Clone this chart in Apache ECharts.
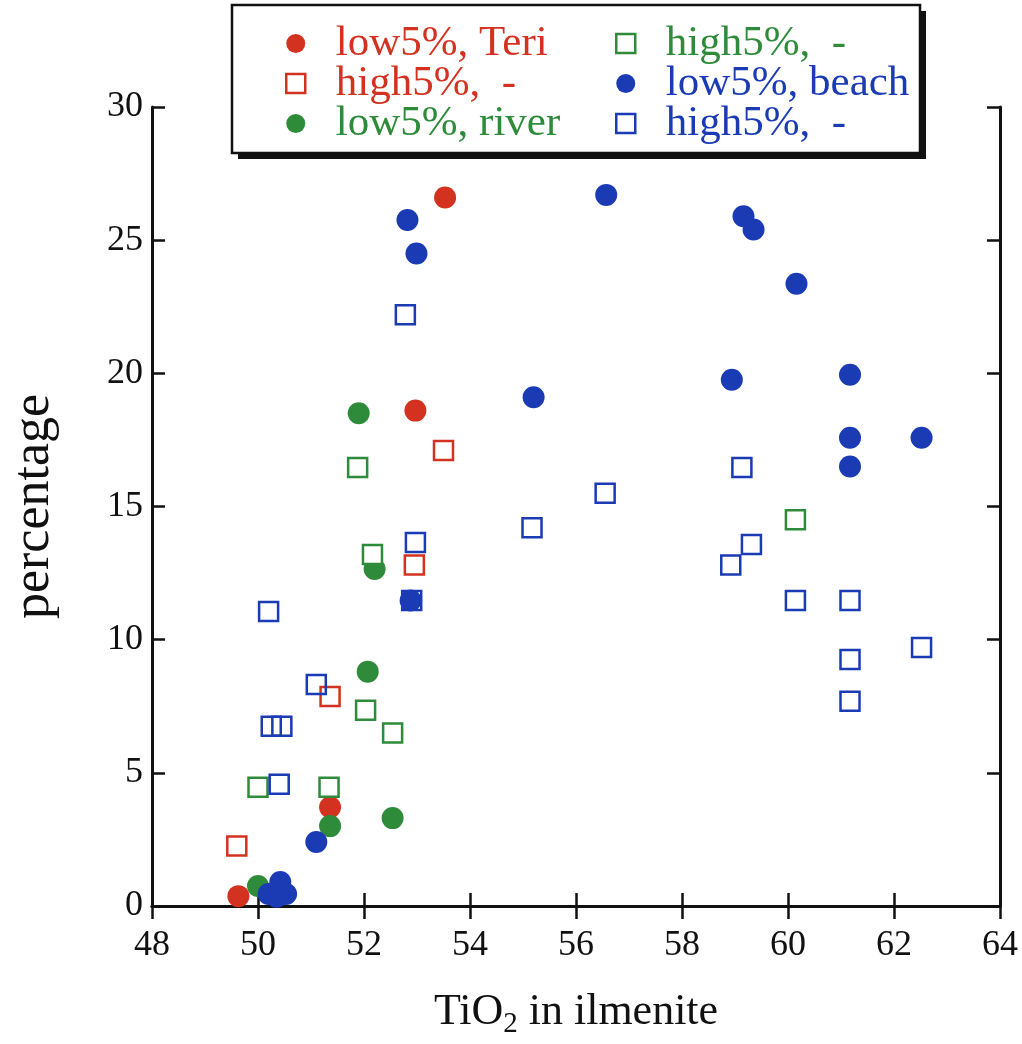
<!DOCTYPE html>
<html>
<head>
<meta charset="utf-8">
<script src="https://cdn.jsdelivr.net/npm/echarts@6/dist/echarts.min.js"></script>
<style>
  html, body { margin: 0; padding: 0; background: #fff; }
  #chart { width: 1022px; height: 1044px; }
</style>
</head>
<body>
<div id="chart"></div>
<script>
// TiO2 content of ilmenite vs. percentage, low/high 5% fractions by source
var xTicks = [48, 64, 2];   // min, max, step
var yTicks = [0, 30, 5];

var teriLow   = [[49.63, 0.37], [51.36, 3.71], [52.97, 18.6], [53.53, 26.6]];
var teriHigh  = [[49.6, 2.25], [51.36, 7.87], [52.95, 12.8], [53.5, 17.1]];
var riverLow  = [[50.0, 0.75], [51.36, 3.0], [52.54, 3.3], [52.07, 8.8], [52.2, 12.65], [51.9, 18.5]];
var riverHigh = [[50.0, 4.46], [51.34, 4.46], [52.54, 6.5], [52.03, 7.35], [52.16, 13.2], [51.88, 16.46], [60.14, 14.5]];
var beachLow  = [[50.2, 0.45], [50.35, 0.35], [50.42, 0.9], [50.53, 0.45], [51.1, 2.4], [52.88, 11.47],
                 [52.82, 25.76], [52.99, 24.5], [55.2, 19.1], [56.57, 26.7], [58.94, 19.76], [59.16, 25.9],
                 [59.35, 25.4], [60.16, 23.36], [61.17, 19.95], [61.17, 17.58], [61.17, 16.5], [62.52, 17.58]];
var beachHigh = [[50.4, 4.57], [50.25, 6.75], [50.45, 6.75], [51.1, 8.32], [50.2, 11.06], [52.9, 11.47],
                 [52.97, 13.65], [52.78, 22.2], [55.17, 14.2], [56.55, 15.5], [58.92, 12.8], [59.31, 13.57],
                 [59.13, 16.46], [60.14, 11.47], [61.17, 11.47], [61.17, 9.26], [61.17, 7.69], [62.52, 9.71]];

var legendText = {
  'Teri low': 'low5%, Teri', 'Teri high': 'high5%,  -', 'river low': 'low5%, river',
  'river high': 'high5%,  -', 'beach low': 'low5%, beach', 'beach high': 'high5%,  -'
};

var RED = '#d2321f', GREEN = '#2e8b3a', BLUE = '#1a3bb3';
var FONT = 'Liberation Serif';
var SQUARE = 'path://M0,0H10V10H0Z';

function dots(name, data, color) {
  return { name: name, type: 'scatter', data: data, symbol: 'circle', symbolSize: 22,
           itemStyle: { color: color, opacity: 1 }, z: 3 };
}
function boxes(name, data, color, fill) {
  return { name: name, type: 'scatter', data: data, symbol: 'rect', symbolSize: 19,
           itemStyle: { color: fill, borderColor: color, borderWidth: 2.5, opacity: 1 }, z: 3 };
}

function legendItem(name, color, open) {
  return {
    name: name, icon: open ? SQUARE : 'circle',
    itemStyle: open ? { color: '#fff', borderColor: color, borderWidth: 2.5 } : { color: color, borderWidth: 0 },
    textStyle: { color: color }
  };
}
var legendCommon = {
  orient: 'vertical', top: 17, itemGap: -3, itemWidth: 70, itemHeight: 19, z: 20,
  symbolKeepAspect: true, selectedMode: false,
  formatter: function (n) { return legendText[n]; },
  textStyle: { fontFamily: FONT, fontSize: 43, lineHeight: 38 }
};

var axisLine = { show: true, lineStyle: { color: '#111', width: 3 } };
var tick = { show: true, inside: true, length: 13, lineStyle: { color: '#111', width: 2.5 } };

var chart = echarts.init(document.getElementById('chart'), null, { renderer: 'canvas' });
chart.setOption({
  backgroundColor: '#fff',
  animation: false,
  grid: { left: 149, right: 22, top: 107, bottom: 137 },
  xAxis: [
    { type: 'value', position: 'bottom', min: xTicks[0], max: xTicks[1], interval: xTicks[2],
      axisLine: axisLine, axisTick: tick, splitLine: { show: false },
      axisLabel: { fontFamily: FONT, fontSize: 36, color: '#111', margin: 22 },
      name: 'TiO{sub|2} in ilmenite', nameLocation: 'middle', nameGap: 80,
      nameTextStyle: { fontFamily: FONT, fontSize: 44, color: '#111',
        rich: { sub: { fontFamily: FONT, fontSize: 29, color: '#111', verticalAlign: 'bottom', padding: [24, 0, 0, 0] } } } },
    { type: 'value', position: 'top', min: xTicks[0], max: xTicks[1], interval: xTicks[2],
      axisLine: axisLine, axisTick: tick, axisLabel: { show: false }, splitLine: { show: false } }
  ],
  yAxis: [
    { type: 'value', position: 'left', min: yTicks[0], max: yTicks[1], interval: yTicks[2],
      axisLine: axisLine, axisTick: tick, splitLine: { show: false },
      axisLabel: { fontFamily: FONT, fontSize: 36, color: '#111', margin: 9 },
      name: 'percentage', nameLocation: 'middle', nameRotate: 90, nameGap: 92,
      nameTextStyle: { fontFamily: FONT, fontSize: 52, color: '#111' } },
    { type: 'value', position: 'right', min: yTicks[0], max: yTicks[1], interval: yTicks[2],
      axisLine: axisLine, axisTick: tick, axisLabel: { show: false }, splitLine: { show: false } }
  ],
  legend: [
    Object.assign({ left: 280, data: [legendItem('Teri low', RED, false), legendItem('Teri high', RED, true), legendItem('river low', GREEN, false)] }, legendCommon),
    Object.assign({ left: 610, data: [legendItem('river high', GREEN, true), legendItem('beach low', BLUE, false), legendItem('beach high', BLUE, true)] }, legendCommon)
  ],
  graphic: [
    { type: 'rect', z: 10, shape: { x: 238, y: 11, width: 688, height: 148 }, style: { fill: '#111' } },
    { type: 'rect', z: 11, shape: { x: 232, y: 5, width: 688, height: 148 }, style: { fill: '#fff', stroke: '#111', lineWidth: 2.5 } }
  ],
  series: [
    dots('Teri low', teriLow, RED),
    boxes('Teri high', teriHigh, RED, 'transparent'),
    dots('river low', riverLow, GREEN),
    boxes('river high', riverHigh, GREEN, '#fff'),
    boxes('beach high', beachHigh, BLUE, 'transparent'),
    dots('beach low', beachLow, BLUE)
  ]
});
</script>
</body>
</html>
